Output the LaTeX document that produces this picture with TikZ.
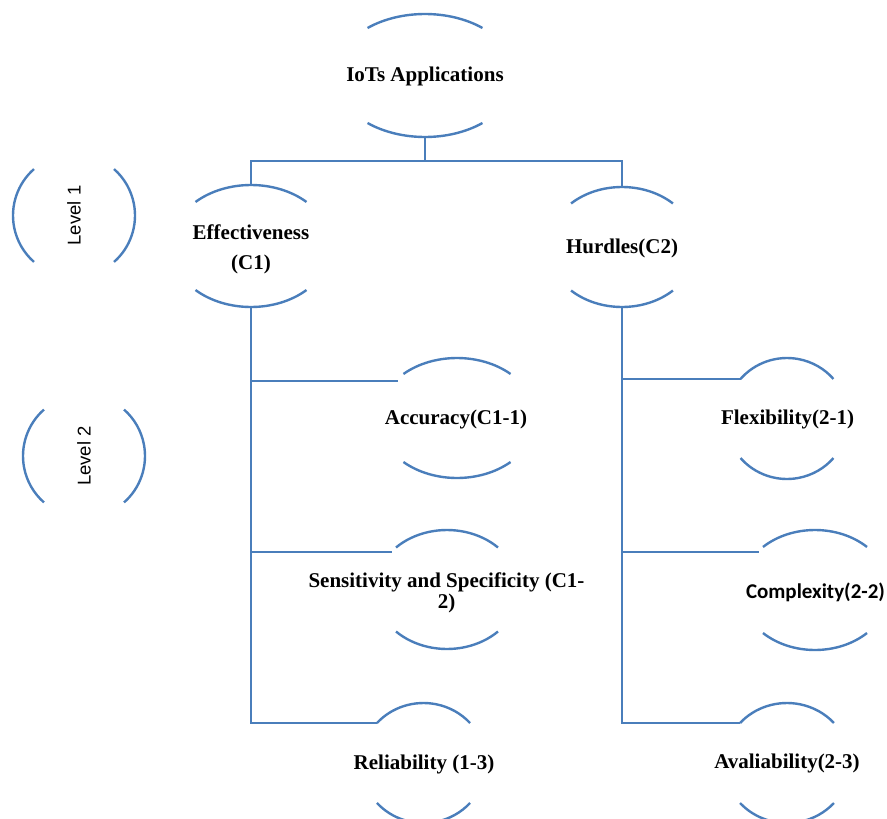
\documentclass[tikz,border=0pt]{standalone}
\usepackage{fontspec}
\setmainfont{Liberation Serif}
\newfontfamily\calfont{Carlito}
\newfontfamily\lvlfont{Liberation Sans}
\usetikzlibrary{calc}
\definecolor{lineblue}{RGB}{74,126,187}
\tikzset{
  conn/.style={draw=lineblue, line width=2.4pt},
  arcline/.style={draw=lineblue, line width=2.4pt},
  lbl/.style={font=\bfseries\fontsize{21}{24}\selectfont, inner sep=0pt, align=center, text=black},
  lvl/.style={font=\lvlfont\fontsize{18.5}{20}\selectfont, inner sep=0pt, rotate=90, text=black}
}
% name, cx, cy, a, b, t0
\newcommand\myoval[6]{%
  \draw[arcline] (#2,#3) ++({180-#6}:{#4} and {#5}) arc[start angle={180-#6}, end angle={#6}, x radius={#4}, y radius={#5}];
  \draw[arcline] (#2,#3) ++({180+#6}:{#4} and {#5}) arc[start angle={180+#6}, end angle={360-#6}, x radius={#4}, y radius={#5}];
  \path (#2,#3) ++(0,#5) coordinate (#1-t);
  \path (#2,#3) ++(0,-#5) coordinate (#1-b);
  \path (#2,#3) ++({180-#6}:{#4} and {#5}) coordinate (#1-tl);
}
% cx, cy
\newcommand\mylvloval[2]{%
  \draw[arcline] (#1,#2) ++(131:61 and 61.5) arc[start angle=131, end angle=229, x radius=61, y radius=61.5];
  \draw[arcline] (#1,#2) ++(-49:61 and 61.5) arc[start angle=-49, end angle=49, x radius=61, y radius=61.5];
}
\begin{document}
\begin{tikzpicture}[x=1pt,y=1pt]
\useasboundingbox (0,0) rectangle (887,-819);
\clip (0,0) rectangle (887,-819);

% level ovals
\mylvloval{74}{-215.5}
\mylvloval{84}{-456}
\node[lvl] (lv1) at (74,-215.5) {Level 1};
\node[lvl] (lv2) at (84,-456) {Level 2};

% ovals
\myoval{iot}{425}{-75.5}{90.5}{61.5}{50.6}
\myoval{eff}{251}{-246}{80.2}{61}{46.2}
\myoval{hur}{622}{-247}{74}{60}{46.5}
\myoval{acc}{457}{-418}{78.8}{60}{47.2}
\myoval{sen}{447}{-589.5}{72}{59.5}{44.9}
\myoval{rel}{423.5}{-763}{62.4}{60}{41.8}
\myoval{flx}{787}{-418.5}{61.4}{60.5}{40.8}
\myoval{cpx}{815}{-590}{74.6}{60}{45.8}
\myoval{ava}{787}{-763}{63}{60}{41.8}

% labels
\node[lbl] (iotl) at (425,-76) {IoTs Applications};
\node[lbl, font=\bfseries\fontsize{21}{30}\selectfont] (effl) at (251,-249) {Effectiveness\\(C1)};
\node[lbl] (hurl) at (622,-248) {Hurdles(C2)};
\node[lbl] (accl) at (456,-419) {Accuracy(C1-1)};
\node[lbl, font=\bfseries\fontsize{21}{21}\selectfont] (senl) at (446.5,-593) {Sensitivity and Specificity (C1-\\2)};
\node[lbl] (rell) at (424,-764) {Reliability (1-3)};
\node[lbl] (flxl) at (787.5,-419) {Flexibility(2-1)};
\node[lbl, font=\calfont\bfseries\fontsize{21}{24}\selectfont] (cpxl) at (815.5,-592) {Complexity(2-2)};
\node[lbl] (aval) at (787,-763) {Avaliability(2-3)};

% connector end points
\coordinate (j) at (425,-161);
\coordinate (acc-in) at (398,-381);
\coordinate (sen-in) at (392,-552);
\coordinate (cpx-in) at (759,-552);

% connectors
\draw[conn] (iot-b) -- (j);
\draw[conn] (eff-t) -- (eff-t |- j) -- (hur-t |- j) -- (hur-t);
\draw[conn] (eff-b) -- (eff-b |- rel-tl) -- (rel-tl);
\draw[conn] (eff-b |- acc-in) -- (acc-in);
\draw[conn] (eff-b |- sen-in) -- (sen-in);
\draw[conn] (hur-b) -- (hur-b |- ava-tl) -- (ava-tl);
\draw[conn] (hur-b |- flx-tl) -- (flx-tl);
\draw[conn] (hur-b |- cpx-in) -- (cpx-in);
\end{tikzpicture}
\end{document}
